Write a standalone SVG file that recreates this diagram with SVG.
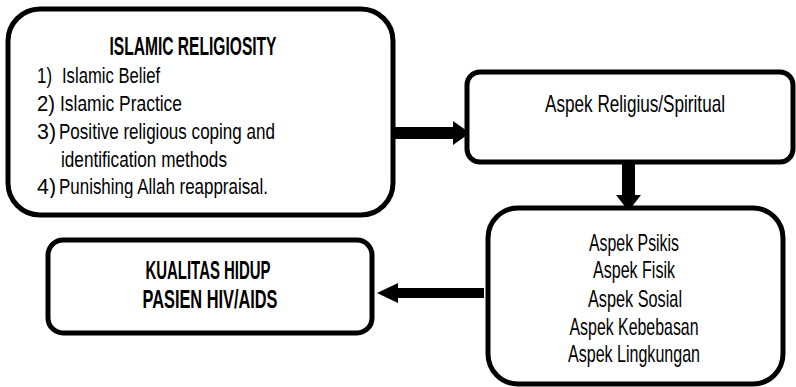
<svg xmlns="http://www.w3.org/2000/svg" width="796" height="387" viewBox="0 0 796 387">
  <style>
    .box { fill: #ffffff; stroke: #000000; stroke-width: 5; }
    .arrow { fill: #000000; stroke: none; }
    .t { font-family: "Liberation Sans Narrow", "Liberation Sans", Arial, sans-serif; fill: #000000; }
    .reg { font-size: 22px; }
    .mid { font-size: 24px; text-anchor: middle; }
    .head { font-size: 25px; font-weight: bold; text-anchor: middle; }
  </style>
  <defs>
    <clipPath id="listClip">
      <rect x="10" y="10" width="380" height="188"/>
    </clipPath>
  </defs>

  <rect width="796" height="387" fill="#ffffff"/>

  <!-- connectors -->
  <g id="connectors">
    <polygon class="arrow" points="392,127 453,127 453,121 470,133 453,145 453,139 392,139"/>
    <polygon class="arrow" points="622,162 635,162 635,195 641,195 628.5,211 616,195 622,195"/>
    <polygon class="arrow" points="484,288 398,288 398,283 377,293 398,303 398,298 484,298"/>
  </g>

  <!-- Islamic religiosity -->
  <g id="node-religiosity">
    <rect class="box" x="8" y="9" width="385" height="206" rx="32" ry="32"/>
    <text class="t head" x="193" y="55" textLength="167" lengthAdjust="spacingAndGlyphs">ISLAMIC RELIGIOSITY</text>
    <g clip-path="url(#listClip)">
      <text class="t reg" x="37" y="83" textLength="15" lengthAdjust="spacingAndGlyphs">1)</text>
      <text class="t reg" x="62" y="83" textLength="98" lengthAdjust="spacingAndGlyphs">Islamic Belief</text>
      <text class="t reg" x="37" y="111" textLength="18" lengthAdjust="spacingAndGlyphs">2)</text>
      <text class="t reg" x="60" y="111" textLength="122" lengthAdjust="spacingAndGlyphs">Islamic Practice</text>
      <text class="t reg" x="37" y="139" textLength="19" lengthAdjust="spacingAndGlyphs">3)</text>
      <text class="t reg" x="59" y="139" textLength="216" lengthAdjust="spacingAndGlyphs">Positive religious coping and</text>
      <text class="t reg" x="61" y="167" textLength="166" lengthAdjust="spacingAndGlyphs">identification methods</text>
      <text class="t reg" x="37" y="194" textLength="19" lengthAdjust="spacingAndGlyphs">4)</text>
      <text class="t reg" x="59" y="194" textLength="209" lengthAdjust="spacingAndGlyphs">Punishing Allah reappraisal.</text>
    </g>
  </g>

  <!-- Religious / spiritual aspect -->
  <g id="node-religius">
    <rect class="box" x="467" y="72" width="326" height="90" rx="13" ry="13"/>
    <text class="t mid" x="635" y="112" textLength="180" lengthAdjust="spacingAndGlyphs">Aspek Religius/Spiritual</text>
  </g>

  <!-- Quality-of-life aspects -->
  <g id="node-aspek">
    <rect class="box" x="488" y="208" width="295" height="176" rx="30" ry="30"/>
    <text class="t mid" x="634" y="251" textLength="90" lengthAdjust="spacingAndGlyphs">Aspek Psikis</text>
    <text class="t mid" x="634" y="278" textLength="82" lengthAdjust="spacingAndGlyphs">Aspek Fisik</text>
    <text class="t mid" x="635" y="307" textLength="94" lengthAdjust="spacingAndGlyphs">Aspek Sosial</text>
    <text class="t mid" x="634" y="335" textLength="129" lengthAdjust="spacingAndGlyphs">Aspek Kebebasan</text>
    <text class="t mid" x="634" y="362" textLength="132" lengthAdjust="spacingAndGlyphs">Aspek Lingkungan</text>
  </g>

  <!-- Quality of life of HIV/AIDS patients -->
  <g id="node-kualitas">
    <rect class="box" x="48" y="240" width="324" height="93" rx="15" ry="15"/>
    <text class="t head" x="208" y="279" textLength="125" lengthAdjust="spacingAndGlyphs">KUALITAS HIDUP</text>
    <text class="t head" x="210" y="308" textLength="135" lengthAdjust="spacingAndGlyphs">PASIEN HIV/AIDS</text>
  </g>
</svg>
